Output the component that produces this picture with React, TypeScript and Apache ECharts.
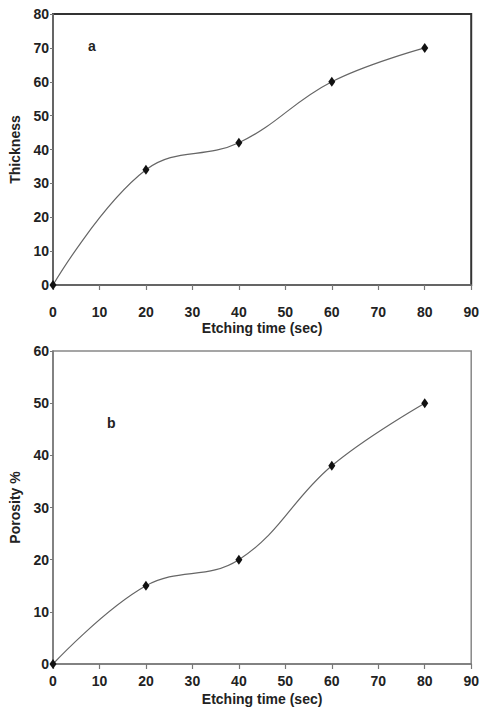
import React, { useEffect, useRef } from "react";
import * as echarts from "echarts";

const timeA = [0, 20, 40, 60, 80];
const thickness = [0, 34, 42, 60, 70];
const timeB = [0, 20, 40, 60, 80];
const porosity = [0, 15, 20, 38, 50];

const FONT = "'Liberation Sans', Arial, sans-serif";

export default function App() {
  const ref = useRef<HTMLDivElement>(null);
  useEffect(() => {
    if (!ref.current) return;
    const chart = echarts.init(ref.current, null, { renderer: "svg" });
    const axisLabel = { fontFamily: FONT, fontWeight: "bold" as const, fontSize: 14, color: "#222" };
    const nameStyle = { fontFamily: FONT, fontWeight: "bold" as const, fontSize: 14, color: "#222" };
    const xBase = (gi: number, margin: number, nameGap: number) => ({
      type: "value" as const,
      gridIndex: gi,
      min: 0,
      max: 90,
      interval: 10,
      name: "Etching time (sec)",
      nameLocation: "middle" as const,
      nameGap,
      nameTextStyle: nameStyle,
      axisLine: { show: true, lineStyle: { color: "#777", width: 1.5 } },
      axisTick: { show: true, inside: false, length: 5, lineStyle: { color: "#777", width: 1.2 } },
      axisLabel: { ...axisLabel, margin },
      splitLine: { show: false },
    });
    const yBase = (gi: number, max: number, interval: number, name: string) => ({
      type: "value" as const,
      gridIndex: gi,
      min: 0,
      max,
      interval,
      name,
      nameLocation: "middle" as const,
      nameGap: 31,
      nameTextStyle: nameStyle,
      axisLine: { show: true, lineStyle: { color: "#777", width: 1.5 } },
      axisTick: { show: true, inside: false, length: 3, lineStyle: { color: "#777", width: 1 } },
      axisLabel: { ...axisLabel, margin: 4 },
      splitLine: { show: false },
    });
    const seriesBase = {
      type: "line" as const,
      smooth: 0.4,
      symbol: "diamond",
      symbolSize: [7, 10],
      itemStyle: { color: "#111" },
      lineStyle: { color: "#666", width: 1.2 },
    };
    chart.setOption({
      animation: false,
      backgroundColor: "#fff",
      grid: [
        { left: 48, top: 14, right: 9, height: 271, show: true, borderColor: "#333", borderWidth: 2, backgroundColor: "transparent" },
        { left: 52, top: 351, right: 3, height: 313, show: true, borderColor: "#888", borderWidth: 1.5, backgroundColor: "transparent" },
      ],
      xAxis: [xBase(0, 20, 36), xBase(1, 10, 28)],
      yAxis: [yBase(0, 80, 10, "Thickness"), yBase(1, 60, 10, "Porosity %")],
      series: [
        { ...seriesBase, xAxisIndex: 0, yAxisIndex: 0, data: timeA.map((t, i) => [t, thickness[i]]) },
        { ...seriesBase, xAxisIndex: 1, yAxisIndex: 1, data: timeB.map((t, i) => [t, porosity[i]]) },
      ],
      graphic: [
        { type: "text", left: 88, top: 39, style: { text: "a", font: `bold 14px ${FONT}`, fill: "#222" } },
        { type: "text", left: 107, top: 416, style: { text: "b", font: `bold 14px ${FONT}`, fill: "#222" } },
      ],
    });
    return () => chart.dispose();
  }, []);
  return <div ref={ref} style={{ position: "fixed", left: 0, top: 0, width: 482, height: 709 }} />;
}
